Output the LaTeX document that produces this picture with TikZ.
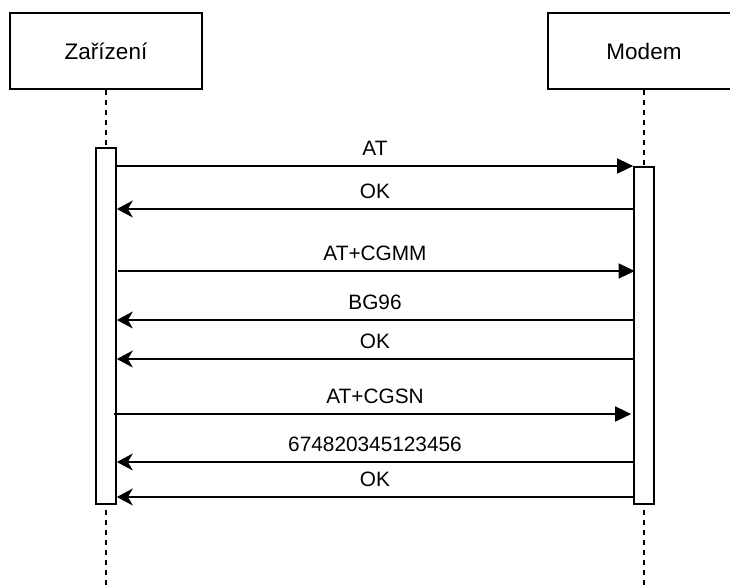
\documentclass[tikz,border=0pt]{standalone}
\usepackage{fontspec}
\setmainfont{Liberation Sans}
\usetikzlibrary{arrows.meta}
\begin{document}
\begin{tikzpicture}[x=1pt,y=-1pt,
  line width=1.7pt,
  actor/.style={draw, rectangle, minimum width=192pt, minimum height=76pt, inner sep=0pt, font=\fontsize{22.5}{26}\selectfont},
  bar/.style={draw, fill=white, rectangle, minimum width=20pt, inner sep=0pt, anchor=north},
  life/.style={dash pattern=on 5.5pt off 4.5pt, line width=1.6pt},
  sync/.style={-{Triangle[length=16pt,width=15pt]}, line width=1.5pt},
  reply/.style={-{Stealth[length=16pt,width=17pt,inset=5pt]}, line width=1.5pt},
  msg/.style={font=\fontsize{20.8}{24}\selectfont, anchor=base, inner sep=0pt}
]
\useasboundingbox (0,0) rectangle (730,587);
\clip (0,0) rectangle (730,587);
\node[actor] (dev) at (106,51) {Zařízení};
\node[actor] (mod) at (644,51) {Modem};
\coordinate (devend) at (106,600);
\coordinate (modend) at (644,600);
\draw[life] (dev.south) -- (devend);
\draw[life] (mod.south) -- (modend);
\node[bar, minimum height=356pt] (lb) at (106,147) {};
\node[bar, minimum height=337pt] (rb) at (644,166) {};
% y levels
\coordinate (y1) at (0,166);
\coordinate (y2) at (0,209);
\coordinate (y3) at (0,271);
\coordinate (y4) at (0,320);
\coordinate (y5) at (0,359);
\coordinate (y6) at (0,414);
\coordinate (y7) at (0,462);
\coordinate (y8) at (0,497);
\coordinate (xm) at (375,0);
\draw[sync] (lb.east |- y1) -- (rb.west |- y1);
\node[msg] (l1) at ([yshift=10.5pt]xm |- y1) {AT};
\draw[reply] (rb.west |- y2) -- (lb.east |- y2);
\node[msg] (l2) at ([yshift=10.5pt]xm |- y2) {OK};
\draw[sync] ([xshift=1pt]lb.east |- y3) -- ([xshift=1.5pt]rb.west |- y3);
\node[msg] (l3) at ([yshift=10.5pt]xm |- y3) {AT+CGMM};
\draw[reply] (rb.west |- y4) -- (lb.east |- y4);
\node[msg] (l4) at ([yshift=10.5pt]xm |- y4) {BG96};
\draw[reply] (rb.west |- y5) -- (lb.east |- y5);
\node[msg] (l5) at ([yshift=10.5pt]xm |- y5) {OK};
\draw[sync] ([xshift=-3pt]lb.east |- y6) -- ([xshift=-2pt]rb.west |- y6);
\node[msg] (l6) at ([yshift=10.5pt]xm |- y6) {AT+CGSN};
\draw[reply] (rb.west |- y7) -- (lb.east |- y7);
\node[msg] (l7) at ([yshift=10.5pt]xm |- y7) {674820345123456};
\draw[reply] (rb.west |- y8) -- (lb.east |- y8);
\node[msg] (l8) at ([yshift=10.5pt]xm |- y8) {OK};
\end{tikzpicture}
\end{document}
